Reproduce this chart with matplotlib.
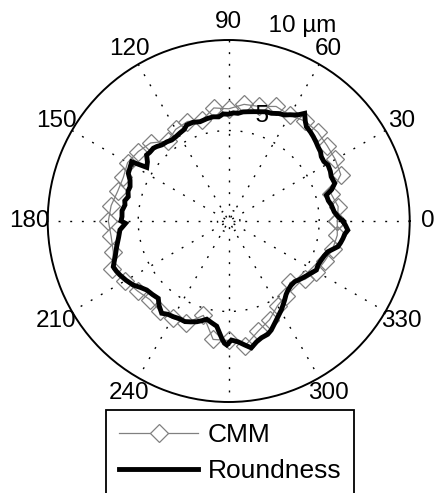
import numpy as np
import matplotlib
matplotlib.use("Agg")
import matplotlib.pyplot as plt
from matplotlib.lines import Line2D

plt.rcParams['font.family'] = ['Liberation Sans', 'DejaVu Sans']

# ---- data ----
round_deg = [0, 2.3, 5, 8.9, 11.5, 14.9, 17, 19.6, 23.4, 26, 29.4, 32, 34.8, 37, 39.8, 42, 44.9,
             47.5, 50.5, 52.5, 54.8, 56.5, 58.1, 60, 62.2, 65, 68.4, 71, 73.4, 77, 80, 82.5, 85.1,
             87.5, 90, 93, 95.5, 98.4, 102, 106.1, 110, 113.6, 116, 119, 122, 125.1, 128, 131.4,
             134, 136, 139, 141.2, 144, 146.8, 148.6, 151.5, 154.6, 157.5, 160.8, 163.5, 166.4,
             169, 171.2, 174.5, 177.7, 180, 181.3, 184.7, 188.5, 192.9, 197, 201.6, 204, 206.4,
             210, 213.9, 217, 220.1, 224, 227.7, 230.5, 234, 237, 239.9, 243, 246.5, 249.5, 252.4,
             255, 257.4, 260.5, 263.5, 266.6, 268, 269.1, 271.3, 274.5, 277.4, 280.1, 283, 285.7,
             289, 291.3, 295.7, 300.6, 303, 305.3, 308, 310.7, 314, 317.4, 320.5, 323.8, 327,
             330.8, 334, 337.2, 340, 342.8, 346.8, 349, 351.4, 353.5, 355.6, 358, 360]
round_um = [6.30, 6.04, 5.85, 5.74, 5.62, 5.58, 5.95, 6.22, 6.17, 6.25, 6.30, 6.20, 6.23, 6.35, 6.42,
            6.50, 6.60, 6.68, 6.75, 6.95, 7.28, 7.05, 6.90, 6.78, 6.62, 6.55, 6.40, 6.38, 6.30, 6.20,
            6.13, 6.08, 5.97, 5.98, 5.90, 5.92, 5.78, 5.82, 5.78, 5.71, 5.80, 5.79, 5.62, 5.56, 5.50,
            5.47, 5.55, 5.60, 5.72, 5.79, 5.78, 5.82, 5.55, 5.41, 6.28, 6.20, 6.14, 5.90, 5.77, 5.80,
            5.71, 5.85, 5.80, 5.92, 5.90, 5.95, 5.70, 6.03, 6.15, 6.35, 6.55, 6.86, 6.80, 6.71, 6.55,
            6.35, 6.10, 5.92, 5.85, 5.78, 6.05, 6.30, 6.15, 6.11, 6.05, 6.06, 5.95, 5.84, 5.70, 5.56,
            5.70, 5.85, 6.49, 6.76, 6.85, 6.58, 6.70, 6.91, 7.12, 6.85, 6.70, 6.62, 6.47, 6.07, 5.71,
            5.52, 5.35, 5.15, 5.03, 4.95, 4.95, 5.08, 5.21, 5.35, 5.55, 5.50, 5.55, 5.62, 5.74, 6.20,
            6.30, 6.39, 6.45, 6.60, 6.45, 6.30]

cmm_deg = [0, 7.5, 15, 22.5, 30, 37.5, 45, 52.5, 60, 67.5, 75, 82.5, 90, 97.5, 105, 112.5, 120,
           127.5, 135, 142.5, 150, 157.5, 165, 172.5, 180, 187.5, 195, 202.5, 210, 217.5, 225,
           232.5, 240, 247.5, 255, 262.5, 270, 277.5, 285, 292.5, 300, 307.5, 315, 322.5, 330,
           337.5, 345, 352.5, 360]
cmm_um = [6.00, 6.10, 5.85, 6.70, 6.80, 6.85, 6.95, 6.95, 6.75, 6.85, 6.55, 6.50, 6.20, 6.30, 5.75,
          5.95, 5.85, 5.55, 6.10, 6.30, 6.45, 6.30, 6.35, 6.55, 6.65, 6.55, 6.60, 6.95, 6.60, 6.35,
          6.15, 6.25, 6.20, 6.10, 5.40, 6.60, 6.60, 6.95, 6.30, 5.90, 5.40, 5.20, 4.80, 5.30, 5.60,
          5.75, 5.95, 6.05, 6.00]

spoke_angles = [0, 30, 60, 90, 120, 150]
# the 270 label sits under the legend in the reference, so it is not shown
angle_labels = [0, 30, 60, 90, 120, 150, 180, 210, 240, 300, 330]
ring_values = [5, 10]
ring_labels = ['  5', '  10 \u00b5m']
series_names = ['CMM', 'Roundness']

# ---- figure ----
W, H = 436, 493
fig = plt.figure(figsize=(W / 100, H / 100), dpi=100)
cx, cy, R = 228.7, 221.0, 181.0
ax = fig.add_axes([(cx - R) / W, (H - cy - R) / H, 2 * R / W, 2 * R / H], projection='polar')
rmax = 10
ax.set_ylim(0, rmax)
ax.grid(False)
ax.set_xticks([])
ax.set_yticks([])
ax.spines['polar'].set_linewidth(1.4)
ax.spines['polar'].set_color('black')

dot = dict(color='black', lw=1.0, linestyle=(0, (1.4, 7)), zorder=1)
# spokes
for a in spoke_angles:
    t = np.deg2rad(a)
    ax.plot([t, t, t + np.pi, t + np.pi], [rmax, 0, 0, rmax], **dot)
# rings
tt = np.linspace(0, 2 * np.pi, 361)
ax.plot(tt, np.full_like(tt, ring_values[0]), **dot)
ax.plot(tt, np.full_like(tt, 0.62), **dot)

# angle labels
for a in angle_labels:
    ax.text(np.deg2rad(a), 1.1 * rmax, str(a), ha='center', va='center', fontsize=17.5,
            clip_on=False)
# ring labels
for v, lab in zip(ring_values, ring_labels):
    ax.text(np.deg2rad(82), v + 0.25, lab, ha='left', va='bottom', fontsize=17.5, clip_on=False,
            zorder=5)

gray = '#808080'
ax.plot(np.deg2rad(cmm_deg), cmm_um, color=gray, lw=0.9, marker='D', ms=9.5, mfc='none',
        mec=gray, mew=0.9, zorder=3)
ax.plot(np.deg2rad(round_deg), round_um, color='black', lw=3.5, zorder=4,
        solid_joinstyle='miter')

handles = [Line2D([], [], color=gray, lw=0.9, marker='D', ms=9.5, mfc='white', mec=gray, mew=0.9),
           Line2D([], [], color='black', lw=3.5)]
leg = ax.legend(handles, series_names, loc='upper left',
                bbox_to_anchor=(106 / W, 1 - 410 / H), bbox_transform=fig.transFigure,
                borderaxespad=0, fontsize=19, fancybox=False, framealpha=1,
                edgecolor='black', handlelength=3.0, handletextpad=0.35, borderpad=0.5,
                labelspacing=0.45, numpoints=1)
leg.get_frame().set_linewidth(1.3)

fig.savefig('out.png', dpi=100)
